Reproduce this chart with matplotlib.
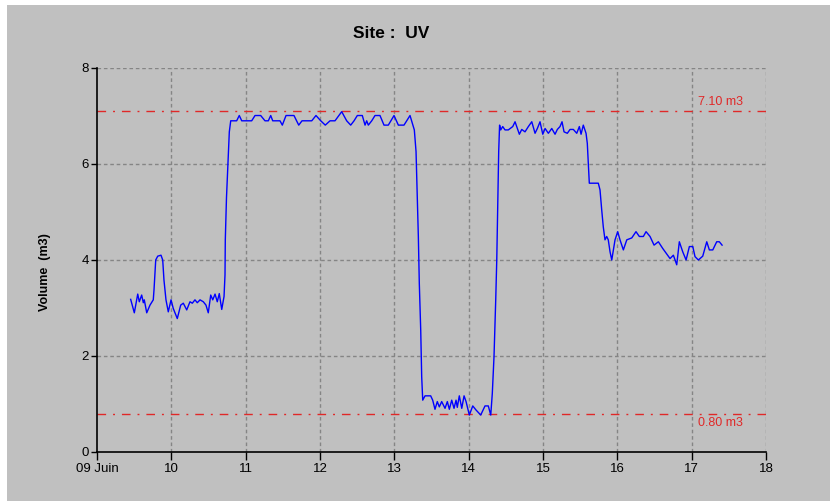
import matplotlib
matplotlib.use("Agg")
import matplotlib.pyplot as plt
from matplotlib.patches import Rectangle

# ---- data ----
days = [9.453, 9.502, 9.548, 9.569, 9.601, 9.623, 9.636, 9.669, 9.713, 9.757, 9.767, 9.790, 9.817,
        9.861, 9.884, 9.901, 9.928, 9.959, 9.996, 10.026, 10.080, 10.126, 10.161, 10.207, 10.251,
        10.282, 10.318, 10.349, 10.386, 10.430, 10.466, 10.497, 10.530, 10.557, 10.588, 10.618,
        10.645, 10.678, 10.709, 10.722, 10.726, 10.742, 10.767, 10.780, 10.799,
        10.879, 10.914, 10.947, 11.081, 11.126, 11.202, 11.260, 11.305, 11.337, 11.364, 11.462,
        11.493, 11.543, 11.650, 11.714, 11.758, 11.889, 11.946, 12.010, 12.071, 12.135, 12.202,
        12.292, 12.359, 12.413, 12.458, 12.502, 12.569, 12.606, 12.628, 12.650, 12.696, 12.740,
        12.807, 12.861, 12.919, 12.996, 13.054, 13.130, 13.211, 13.269, 13.292, 13.309, 13.323,
        13.336, 13.355, 13.368, 13.382, 13.413, 13.489, 13.516, 13.547, 13.578, 13.605, 13.637,
        13.682, 13.713, 13.740, 13.772, 13.803, 13.830, 13.847, 13.874, 13.907, 13.938, 13.965,
        14.009, 14.055, 14.099, 14.162, 14.220, 14.264, 14.297, 14.318, 14.341, 14.364, 14.378,
        14.391, 14.404, 14.416, 14.431, 14.458, 14.489, 14.533, 14.593, 14.624, 14.682, 14.714,
        14.758, 14.803, 14.849, 14.893, 14.924, 14.960, 14.997, 15.028, 15.072, 15.118, 15.162,
        15.193, 15.229, 15.256, 15.283, 15.327, 15.364, 15.408, 15.454, 15.489, 15.512, 15.542,
        15.579, 15.596, 15.610, 15.623, 15.744, 15.767, 15.790, 15.811, 15.834, 15.857, 15.878,
        15.902, 15.925, 15.969, 16.005, 16.036, 16.081, 16.127, 16.194, 16.251, 16.296, 16.350,
        16.386, 16.440, 16.494, 16.552, 16.611, 16.665, 16.709, 16.754, 16.799, 16.834, 16.880,
        16.925, 16.969, 17.015, 17.045, 17.090, 17.149, 17.203, 17.238, 17.284, 17.337, 17.372,
        17.409]
volume = [3.18, 2.90, 3.29, 3.13, 3.27, 3.11, 3.17, 2.90, 3.06, 3.17, 3.38, 4.00, 4.08,
          4.10, 4.00, 3.58, 3.17, 2.92, 3.17, 2.99, 2.78, 3.06, 3.10, 2.96, 3.13,
          3.10, 3.17, 3.11, 3.17, 3.13, 3.06, 2.90, 3.27, 3.17, 3.29, 3.13,
          3.30, 2.97, 3.24, 3.69, 4.42, 5.30, 6.22, 6.67, 6.90,
          6.90, 7.01, 6.90, 6.90, 7.01, 7.01, 6.90, 6.90, 7.01, 6.90, 6.90,
          6.81, 7.01, 7.01, 6.81, 6.90, 6.90, 7.01, 6.90, 6.81, 6.90, 6.90,
          7.09, 6.90, 6.81, 6.90, 7.01, 7.01, 6.81, 6.90, 6.81, 6.90, 7.01,
          7.01, 6.81, 6.81, 7.01, 6.81, 6.81, 7.01, 6.71, 6.26, 5.32, 4.49,
          3.51, 2.54, 1.57, 1.08, 1.17, 1.17, 1.08, 0.89, 1.05, 0.94, 1.05,
          0.91, 1.05, 0.89, 1.08, 0.91, 1.08, 0.93, 1.17, 0.91, 1.17, 1.05,
          0.77, 0.96, 0.875, 0.77, 0.96, 0.96, 0.77, 1.22, 1.99, 3.17, 4.00,
          5.11, 6.26, 6.81, 6.71, 6.78, 6.71, 6.71, 6.78, 6.88, 6.62, 6.72,
          6.67, 6.78, 6.88, 6.64, 6.74, 6.88, 6.62, 6.74, 6.64, 6.74, 6.62,
          6.72, 6.78, 6.88, 6.67, 6.64, 6.72, 6.72, 6.64, 6.78, 6.62, 6.81,
          6.64, 6.43, 6.01, 5.60, 5.60, 5.46, 5.04, 4.69, 4.42, 4.49, 4.42,
          4.17, 4.00, 4.42, 4.59, 4.42, 4.21, 4.42, 4.46, 4.59, 4.49, 4.49,
          4.59, 4.49, 4.31, 4.38, 4.24, 4.125, 4.03, 4.10, 3.90, 4.38, 4.17,
          4.00, 4.28, 4.28, 4.07, 4.00, 4.08, 4.38, 4.21, 4.21, 4.38, 4.38,
          4.31]
thresholds = [7.10, 0.80]
threshold_labels = ["7.10 m3", "0.80 m3"]
x_ticks = [9, 10, 11, 12, 13, 14, 15, 16, 17, 18]
x_tick_labels = ["09 Juin", "10", "11", "12", "13", "14", "15", "16", "17", "18"]
y_ticks = [0, 2, 4, 6, 8]
title = "Site :  UV"
y_label = "Volume  (m3)"

narrow = ["Liberation Sans Narrow", "Liberation Sans", "DejaVu Sans"]
bold_font = ["Liberation Sans", "DejaVu Sans"]

W, H = 830, 501
fig = plt.figure(figsize=(W / 100, H / 100), dpi=100, facecolor="white")
bg = Rectangle((7 / W, 0), 1, 1 - 5 / H, transform=fig.transFigure,
               facecolor="#c0c0c0", edgecolor="none", zorder=-10)
fig.patches.append(bg)

ax = fig.add_axes([97 / W, 1 - 452 / H, (766 - 97) / W, (452 - 68) / H])
ax.set_zorder(5)
ax.set_facecolor("#c0c0c0")
ax.set_xlim(9, 18)
ax.set_ylim(0, 8)

for s in ["top", "right"]:
    ax.spines[s].set_visible(False)
for s in ["left", "bottom"]:
    ax.spines[s].set_color("black")
    ax.spines[s].set_linewidth(1.2)

grid_kw = dict(color="#858585", linewidth=1.0, dashes=(2.6, 2.0), zorder=1)
for x in x_ticks[1:]:
    ax.axvline(x, **grid_kw)
for y in y_ticks[1:]:
    ax.axhline(y, **grid_kw)

for val, lab, dy, va in zip(thresholds, threshold_labels, [0.07, -0.07], ["bottom", "top"]):
    ax.axhline(val, color="#e02828", linewidth=1.0, dashes=(6.2, 5.0, 1.4, 5.0), zorder=2)
    ax.text(17.08, val + dy, lab, color="#e02828", fontsize=9, va=va, ha="left",
            family=narrow)

ax.plot(days, volume, color="#0000ff", linewidth=1.0, zorder=3)

ax.set_xticks(x_ticks)
ax.set_xticklabels(x_tick_labels, family=narrow, fontsize=9.5)
ax.set_yticks(y_ticks)
ax.set_yticklabels([str(v) for v in y_ticks], family=narrow, fontsize=9.5)
ax.tick_params(axis="x", direction="out", length=6, width=1, pad=2, colors="black")
ax.tick_params(axis="y", direction="out", length=4, width=1, pad=2, colors="black")

fig.text(391 / W, 1 - 33 / H, title, ha="center", va="center", fontsize=12.5,
         fontweight="bold", family=bold_font)
fig.text(45 / W, 1 - 272 / H, y_label, ha="center", va="center", rotation=90,
         fontsize=9, fontweight="bold", family=bold_font)

fig.savefig("out.png", dpi=100, facecolor=fig.get_facecolor())
